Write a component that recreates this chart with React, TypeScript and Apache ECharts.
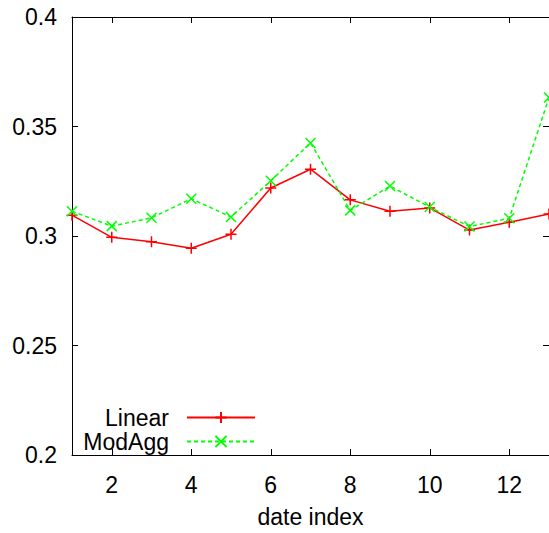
import React, { useEffect, useRef } from "react";
import * as echarts from "echarts";

const dateIndex = [1, 2, 3, 4, 5, 6, 7, 8, 9, 10, 11, 12, 13];
const linearValues = [0.3095, 0.2994, 0.2974, 0.2944, 0.3008, 0.3219, 0.3305, 0.3165, 0.3113, 0.3128, 0.3027, 0.3063, 0.31];
const modAggValues = [0.3113, 0.3045, 0.3083, 0.317, 0.3087, 0.3252, 0.3425, 0.3117, 0.3228, 0.3132, 0.3043, 0.3081, 0.3632];
const xTickValues = [2, 4, 6, 8, 10, 12];
const seriesNames = ["Linear", "ModAgg"];

const FONT = "Liberation Sans, Arial, sans-serif";
const PLUS = "path://M0,5L10,5M5,0L5,10";
const CROSS = "path://M0,0L10,10M10,0L0,10";

export default function App() {
  const ref = useRef<HTMLDivElement>(null);
  useEffect(() => {
    if (!ref.current) return;
    const chart = echarts.init(ref.current, undefined, { renderer: "svg" });
    const axisLine = { show: true, lineStyle: { color: "#000", width: 1 } };
    const tickStyle = { lineStyle: { color: "#000", width: 1 } };
    const legendBase = {
      orient: "vertical" as const,
      align: "right" as const,
      right: 293,
      padding: 0,
      itemWidth: 68,
      itemHeight: 14,
      textStyle: { fontFamily: FONT, fontSize: 23, color: "#000", padding: [0, 13, 0, 0] },
    };
    chart.setOption({
      animation: false,
      grid: { left: 72, top: 17, width: 477, height: 445 },
      legend: [
        { ...legendBase, top: 406, data: [seriesNames[0]] },
        { ...legendBase, top: 430, data: [seriesNames[1]] },
      ],
      xAxis: [
        {
          type: "value",
          min: 1,
          max: 13,
          name: "date index",
          nameLocation: "middle",
          nameGap: 50,
          nameTextStyle: { fontFamily: FONT, fontSize: 23, color: "#000" },
          axisLine,
          splitLine: { show: false },
          axisTick: { inside: true, length: 6, customValues: xTickValues, ...tickStyle },
          axisLabel: { customValues: xTickValues, margin: 18, fontFamily: FONT, fontSize: 23, color: "#000" },
        },
        {
          type: "value",
          position: "top",
          min: 1,
          max: 13,
          axisLine,
          splitLine: { show: false },
          axisTick: { inside: true, length: 6, customValues: xTickValues, ...tickStyle },
          axisLabel: { show: false },
        },
      ],
      yAxis: [
        {
          type: "value",
          min: 0.2,
          max: 0.4,
          interval: 0.05,
          axisLine,
          splitLine: { show: false },
          axisTick: { inside: true, length: 6, ...tickStyle },
          axisLabel: { margin: 15, fontFamily: FONT, fontSize: 23, color: "#000" },
        },
        {
          type: "value",
          position: "right",
          min: 0.2,
          max: 0.4,
          interval: 0.05,
          axisLine,
          splitLine: { show: false },
          axisTick: { inside: true, length: 6, ...tickStyle },
          axisLabel: { show: false },
        },
      ],
      series: [
        {
          name: seriesNames[0],
          type: "line",
          data: dateIndex.map((x, i) => [x, linearValues[i]]),
          symbol: PLUS,
          symbolSize: 11,
          showAllSymbol: true,
          lineStyle: { color: "#ff0000", width: 1.5, type: "solid" },
          itemStyle: { color: "#ff0000", borderColor: "#ff0000", borderWidth: 1.5 },
          clip: true,
        },
        {
          name: seriesNames[1],
          type: "line",
          data: dateIndex.map((x, i) => [x, modAggValues[i]]),
          symbol: CROSS,
          symbolSize: 10,
          showAllSymbol: true,
          lineStyle: { color: "#00ff00", width: 1.5, type: [4, 3] },
          itemStyle: { color: "#00ff00", borderColor: "#00ff00", borderWidth: 1.5 },
          clip: true,
        },
      ],
    });
    return () => chart.dispose();
  }, []);
  return (
    <div
      ref={ref}
      style={{ position: "absolute", left: 0, top: 0, width: 549, height: 533, background: "#fff" }}
    />
  );
}
